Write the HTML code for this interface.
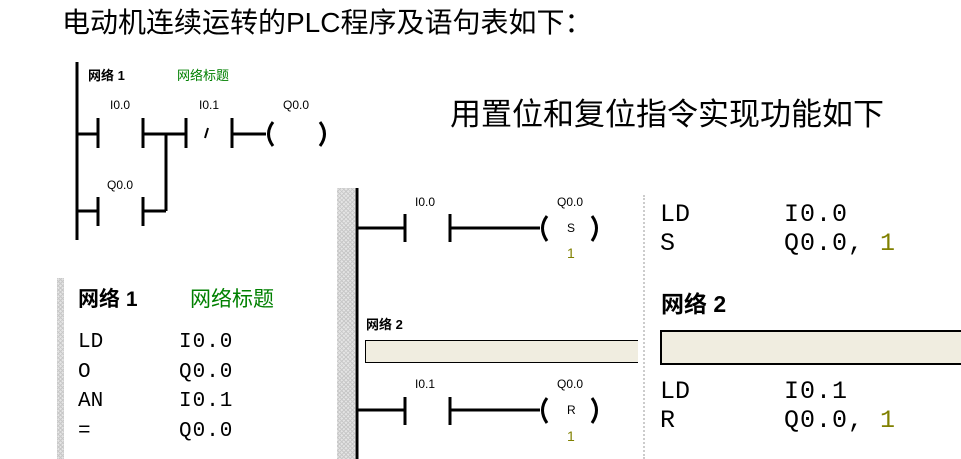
<!DOCTYPE html>
<html><head><meta charset="utf-8"><style>
body{margin:0;width:961px;height:459px;background:#fff;position:relative;overflow:hidden;font-family:"Liberation Sans","Noto Sans CJK SC",sans-serif}
.t{position:absolute;white-space:nowrap;line-height:1}
.m{font-family:"Liberation Mono","Noto Sans CJK SC",monospace}
.dither{position:absolute;background-color:#e4e4e4;background-image:repeating-linear-gradient(45deg,#c8c8c8 0 1px,transparent 1px 3px),repeating-linear-gradient(-45deg,#c8c8c8 0 1px,transparent 1px 3px)}
.s{font-size:12px}
</style></head><body>
<div class="t" style="left:62px;top:9px;font-size:28px">电动机连续运转的PLC程序及语句表如下：</div>
<div class="t" style="left:450px;top:99px;font-size:31px">用置位和复位指令实现功能如下</div>

<div class="dither" style="left:337px;top:188px;width:18px;height:271px"></div>
<div class="dither" style="left:57px;top:278px;width:7px;height:181px"></div>
<div style="position:absolute;left:643px;top:195px;height:264px;border-left:2px dotted #ccc"></div>

<svg width="961" height="459" style="position:absolute;left:0;top:0" fill="none" stroke="#000" stroke-width="3">
<line x1="77" y1="62" x2="77" y2="240"/>
<line x1="77" y1="134" x2="98" y2="134"/>
<line x1="98" y1="118" x2="98" y2="148"/>
<line x1="143" y1="118" x2="143" y2="148"/>
<line x1="143" y1="134" x2="186" y2="134"/>
<line x1="186" y1="118" x2="186" y2="148"/>
<line x1="232" y1="118" x2="232" y2="148"/>
<line x1="232" y1="134" x2="266" y2="134"/>
<line x1="208" y1="128" x2="205" y2="138" stroke-width="2"/>
<path d="M273 122 Q264 134 273 146"/>
<path d="M320 122 Q329 134 320 146"/>
<line x1="166" y1="134" x2="166" y2="211"/>
<line x1="77" y1="211" x2="98" y2="211"/>
<line x1="98" y1="197" x2="98" y2="226"/>
<line x1="143" y1="197" x2="143" y2="226"/>
<line x1="143" y1="211" x2="166" y2="211"/>
<line x1="357" y1="188" x2="357" y2="459"/>
<line x1="357" y1="228" x2="405" y2="228"/>
<line x1="405" y1="214" x2="405" y2="242"/>
<line x1="450" y1="214" x2="450" y2="242"/>
<line x1="450" y1="228" x2="540" y2="228"/>
<path d="M547 216 Q538 228 547 241"/>
<path d="M592 216 Q601 228 592 241"/>
<line x1="357" y1="410" x2="405" y2="410"/>
<line x1="405" y1="397" x2="405" y2="425"/>
<line x1="450" y1="397" x2="450" y2="425"/>
<line x1="450" y1="410" x2="540" y2="410"/>
<path d="M547 398 Q538 410 547 423"/>
<path d="M592 398 Q601 410 592 423"/>
</svg>

<div class="t" style="left:88px;top:69px;font-size:13px;font-weight:bold">网络 1</div>
<div class="t" style="left:177px;top:69px;font-size:13px;color:#008000">网络标题</div>
<div class="t s" style="left:110px;top:99px">I0.0</div>
<div class="t s" style="left:199px;top:99px">I0.1</div>
<div class="t s" style="left:283px;top:99px">Q0.0</div>
<div class="t s" style="left:107px;top:179px">Q0.0</div>

<div class="t s" style="left:415px;top:196px">I0.0</div>
<div class="t s" style="left:557px;top:196px">Q0.0</div>
<div class="t s" style="left:567px;top:222px">S</div>
<div class="t" style="left:567px;top:246px;font-size:14px;color:#808000">1</div>
<div class="t" style="left:366px;top:318px;font-size:13px;font-weight:bold">网络 2</div>
<div style="position:absolute;left:365px;top:340px;width:272px;height:21px;background:#f0ede0;border:1px solid #000;border-right:none"></div>
<div class="t s" style="left:415px;top:378px">I0.1</div>
<div class="t s" style="left:557px;top:378px">Q0.0</div>
<div class="t s" style="left:567px;top:404px">R</div>
<div class="t" style="left:567px;top:429px;font-size:14px;color:#808000">1</div>

<div class="t" style="left:78px;top:289px;font-size:21px;font-weight:bold">网络 1</div>
<div class="t" style="left:190px;top:289px;font-size:21px;color:#008000">网络标题</div>
<div class="t m" style="left:78px;top:328px;font-size:21px;line-height:29.7px">LD<br>O<br>AN<br>=</div>
<div class="t m" style="left:179px;top:328px;font-size:21px;line-height:29.7px;letter-spacing:1px">I0.0<br>Q0.0<br>I0.1<br>Q0.0</div>

<div class="t m" style="left:660px;top:200px;font-size:25px;line-height:29px">LD<br>S</div>
<div class="t m" style="left:784px;top:200px;font-size:25px;line-height:29px;letter-spacing:1px">I0.0<br>Q0.0, <span style="color:#808000">1</span></div>
<div class="t" style="left:661px;top:293px;font-size:23px;font-weight:bold">网络 2</div>
<div style="position:absolute;left:660px;top:330px;width:310px;height:31px;background:#f0ede0;border:2px solid #000"></div>
<div class="t m" style="left:660px;top:377px;font-size:25px;line-height:29px">LD<br>R</div>
<div class="t m" style="left:784px;top:377px;font-size:25px;line-height:29px;letter-spacing:1px">I0.1<br>Q0.0, <span style="color:#808000">1</span></div>
</body></html>
